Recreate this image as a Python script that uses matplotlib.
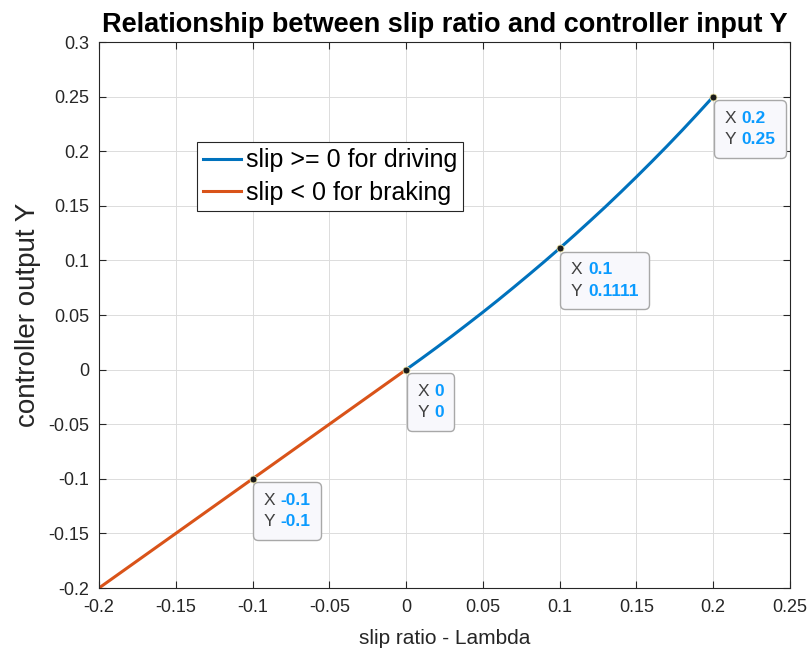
import matplotlib
matplotlib.use('Agg')
import matplotlib.pyplot as plt
from matplotlib.offsetbox import TextArea, HPacker, AnnotationBbox

# slip ratio vs controller output
drive_x = [0, 0.01, 0.02, 0.03, 0.04, 0.05, 0.06, 0.07, 0.08, 0.09, 0.1,
           0.11, 0.12, 0.13, 0.14, 0.15, 0.16, 0.17, 0.18, 0.19, 0.2]
drive_y = [0, 0.0101, 0.0204, 0.0309, 0.0417, 0.0526, 0.0638, 0.0753, 0.0870, 0.0989, 0.1111,
           0.1236, 0.1364, 0.1494, 0.1628, 0.1765, 0.1905, 0.2048, 0.2195, 0.2346, 0.25]
brake_x = [-0.2, -0.1, 0]
brake_y = [-0.2, -0.1, 0]

tip_x = [-0.1, 0, 0.1, 0.2]
tip_y = [-0.1, 0, 0.1111, 0.25]
tip_xtxt = ['-0.1', '0', '0.1', '0.2']
tip_ytxt = ['-0.1', '0', '0.1111', '0.25']

xticks = [-0.2, -0.15, -0.1, -0.05, 0, 0.05, 0.1, 0.15, 0.2, 0.25]
yticks = [-0.2, -0.15, -0.1, -0.05, 0, 0.05, 0.1, 0.15, 0.2, 0.25, 0.3]

plt.rcParams['font.family'] = ['Liberation Sans', 'DejaVu Sans']

fig = plt.figure(figsize=(8.1, 6.53), dpi=100)
ax = fig.add_axes([0.1222, 0.0995, 0.853, 0.836])

ax.plot(drive_x, drive_y, color='#0072BD', lw=2.2, label='slip >= 0 for driving')
ax.plot(brake_x, brake_y, color='#D95319', lw=2.2, label='slip < 0 for braking')

ax.set_xlim(-0.2, 0.25)
ax.set_ylim(-0.2, 0.3)
ax.set_xticks(xticks)
ax.set_yticks(yticks)
ax.set_xticklabels([('%g' % t) for t in xticks])
ax.set_yticklabels([('%g' % t) for t in yticks])
ax.tick_params(direction='in', top=True, right=True, labelsize=13,
               colors='#262626', length=5, width=0.8)
ax.tick_params(axis='y', pad=7)
ax.tick_params(axis='x', pad=8)
ax.grid(True, color='#dcdcdc', lw=0.7)
ax.set_axisbelow(True)
for s in ax.spines.values():
    s.set_color('#262626')
    s.set_linewidth(0.8)

ax.set_title('Relationship between slip ratio and controller input Y',
             fontsize=19.5, fontweight='bold', color='black', pad=7)
ax.set_xlabel('slip ratio - Lambda', fontsize=15, color='#262626', labelpad=9)
ax.set_ylabel('controller output Y', fontsize=20, color='#262626', labelpad=5)

leg = ax.legend(loc='upper left', bbox_to_anchor=(0.142, 0.817), fontsize=18,
                fancybox=False, framealpha=1, edgecolor='#262626',
                handlelength=1.5, borderpad=0.25, labelspacing=0.35,
                handletextpad=0.2, borderaxespad=0)
leg.get_frame().set_linewidth(0.8)

# data tips
for x, y, xs, ys in zip(tip_x, tip_y, tip_xtxt, tip_ytxt):
    lab = TextArea('X\nY', textprops=dict(color='#404040', fontsize=12.5, linespacing=1.55))
    val = TextArea(xs + '\n' + ys, textprops=dict(color='#0A9BFF', fontsize=12.5,
                                                  fontweight='bold', linespacing=1.55))
    box = HPacker(children=[lab, val], pad=0, sep=4)
    ab = AnnotationBbox(box, (x, y), xybox=(8, -10), xycoords='data',
                        boxcoords='offset points', box_alignment=(0, 1), pad=0.75,
                        bboxprops=dict(boxstyle='round,pad=0.75,rounding_size=0.35',
                                       fc='#f8f8fc', ec='#a8a8a8', lw=1.0),
                        zorder=5)
    ax.add_artist(ab)
    ax.plot(x, y, 'o', ms=5, mfc='#1a1a1a', mec='#e8e0a0', mew=0.6, zorder=6)

fig.savefig('out.png', dpi=100)
